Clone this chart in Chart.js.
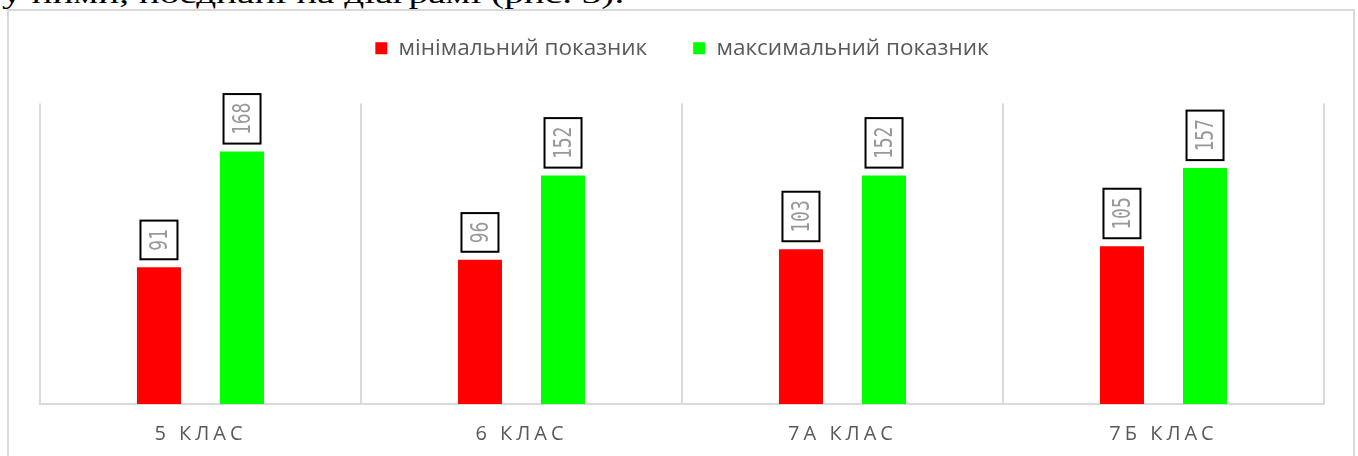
<!DOCTYPE html>
<html>
<head>
<meta charset="utf-8">
<script src="https://cdn.jsdelivr.net/npm/chart.js@4.4.1/dist/chart.umd.min.js"></script>
<style>
html, body { margin: 0; padding: 0; background: #fff; overflow: hidden; width: 1358px; height: 456px; }
#caption { position: absolute; z-index: 0; left: 2px; top: -20px; font-family: "Liberation Serif", "Times New Roman", serif; font-size: 28px; line-height: 28px; color: #000; white-space: nowrap; transform: scaleX(1.4); transform-origin: 0 0; }
#frame { position: absolute; z-index: 1; left: 7px; top: 9px; width: 1344px; height: 480px; border: 2px solid #d9d9d9; background: #fff; }
#frame canvas { display: block; }
</style>
</head>
<body>
<div id="caption">у ними, поєднані на діаграмі (рис. 3).</div>
<div id="frame"><canvas id="chart1" width="1344" height="465"></canvas></div>
<script>
var categories = ['5 КЛАС', '6 КЛАС', '7А КЛАС', '7Б КЛАС'];
var minValues = [91, 96, 103, 105];
var maxValues = [168, 152, 152, 157];
var seriesNames = ['мінімальний показник', 'максимальний показник'];

// boxed, rotated value labels above each bar
var labelBoxes = {
	id: 'labelBoxes',
	beforeInit: function(chart) {
		// extra room between the legend and the bars
		var fit = chart.legend.fit;
		chart.legend.fit = function() {
			fit.call(this);
			this.height += 34;
		};
	},
	afterDatasetsDraw: function(chart) {
		var ctx = chart.ctx;
		ctx.save();
		ctx.font = '18px "DejaVu Sans Mono", monospace';
		chart.data.datasets.forEach(function(ds, i) {
			chart.getDatasetMeta(i).data.forEach(function(bar, j) {
				var txt = String(ds.data[j]);
				var len = ctx.measureText(txt).width;
				var w = 37, h = len + 17;
				var bottom = bar.y - 8;
				ctx.fillStyle = '#fff';
				ctx.fillRect(bar.x - w / 2, bottom - h, w, h);
				ctx.lineWidth = 2;
				ctx.strokeStyle = '#000';
				ctx.strokeRect(bar.x - w / 2, bottom - h, w, h);
				ctx.save();
				ctx.translate(bar.x, bottom - h / 2);
				ctx.rotate(-Math.PI / 2);
				ctx.scale(1, 1.4);
				ctx.fillStyle = '#999999';
				ctx.textAlign = 'center';
				ctx.textBaseline = 'middle';
				ctx.fillText(txt, 0, 1);
				ctx.restore();
			});
		});
		ctx.restore();
		// spaced-out category labels (tick labels are drawn after this, ticks.z: 1)
		ctx.letterSpacing = '4px';
	},
	afterDraw: function(chart) {
		chart.ctx.letterSpacing = '0px';
	}
};

var c1 = document.getElementById('chart1').getContext('2d');
var classChart = new Chart(c1, {
	type: 'bar',
	data: {
		labels: categories,
		datasets: [{
			label: seriesNames[0],
			backgroundColor: '#ff0000',
			data: minValues
		}, {
			label: seriesNames[1],
			backgroundColor: '#00ff00',
			data: maxValues
		}]
	},
	options: {
		responsive: false,
		animation: false,
		categoryPercentage: 0.5175,
		barPercentage: 0.53,
		layout: {
			padding: { left: 31, right: 29, top: -20, bottom: 12 }
		},
		plugins: {
			legend: {
				position: 'top',
				labels: {
					color: '#595959',
					font: { family: 'Open Sans', size: 22.5 },
					boxWidth: 12,
					boxHeight: 12,
					padding: 46
				}
			},
			tooltip: { enabled: false }
		},
		scales: {
			x: {
				grid: { color: '#d9d9d9', lineWidth: 2, offset: true, drawTicks: false },
				border: { color: '#d9d9d9', width: 2 },
				ticks: {
					z: 1,
					color: '#595959',
					font: { family: 'Open Sans', size: 20 },
					padding: 18,
					maxRotation: 0,
					autoSkip: false
				}
			},
			y: {
				display: false,
				min: 0,
				max: 200
			}
		}
	},
	plugins: [labelBoxes]
});
</script>
</body>
</html>
